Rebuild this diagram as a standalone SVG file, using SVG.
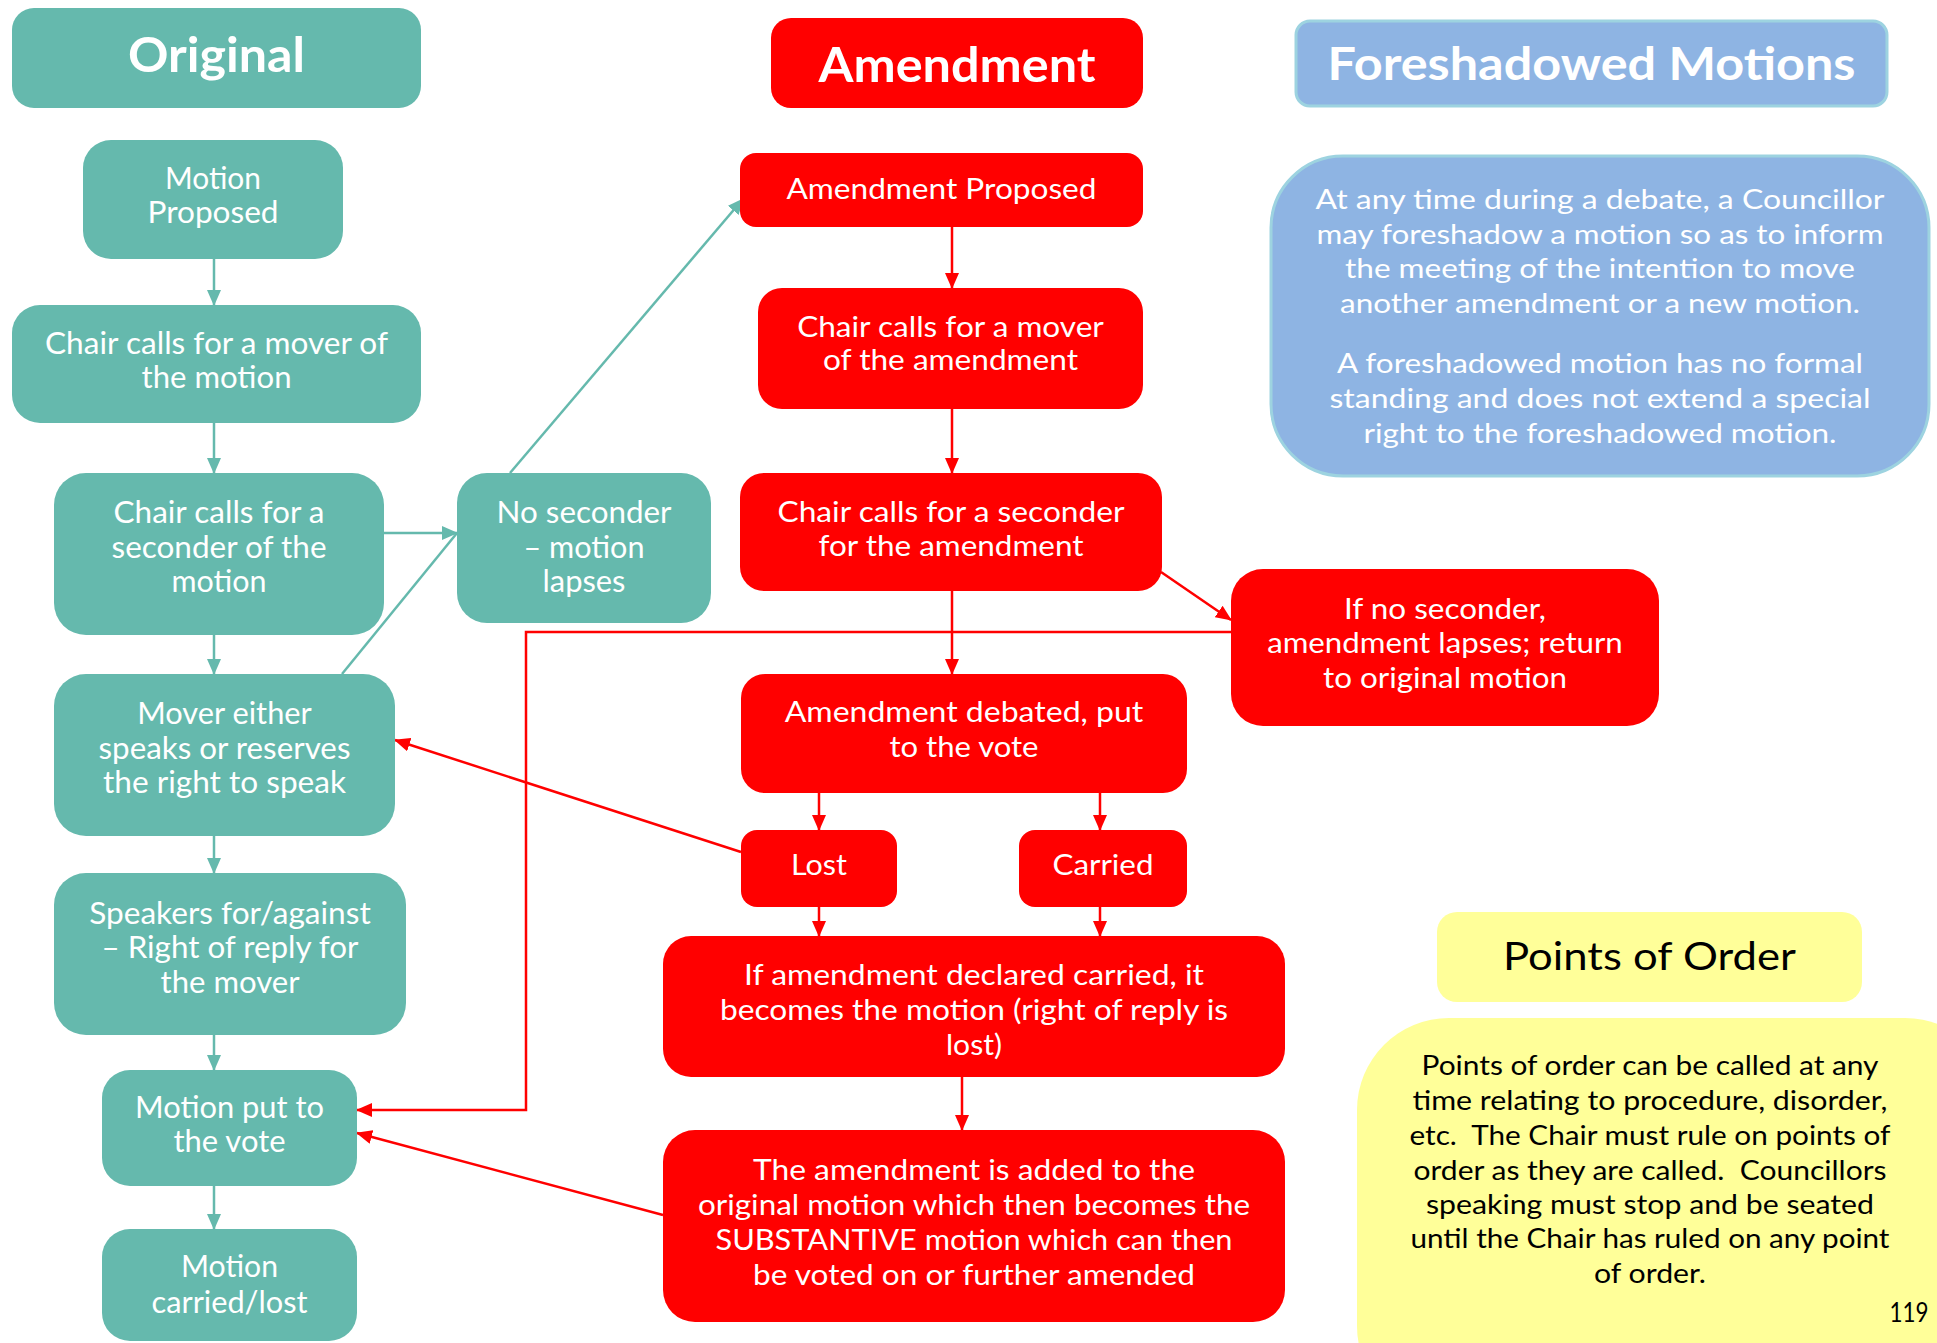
<svg xmlns="http://www.w3.org/2000/svg" width="1937" height="1343" viewBox="0 0 1937 1343">
<defs>
<style>
.teal{fill:#65B9AD;}
.red{fill:#FF0000;}
.blue{fill:#8EB4E3;stroke:#9DD3E0;stroke-width:3;}
.yel{fill:#FFFF99;}
text{font-family:Lato,"Noto Sans","Liberation Sans",sans-serif;text-anchor:middle;}
.wt{fill:#FFFFFF;font-size:31px;}
.rt{fill:#FFFFFF;font-size:29px;}
.bt{fill:#FFFFFF;font-size:27px;}
.yt{fill:#000000;font-size:26px;}
.ttl{fill:#FFFFFF;font-size:48px;font-weight:700;}
.bttl{fill:#FFFFFF;font-size:45px;font-weight:700;}
.yttl{fill:#000000;font-size:39px;}
.lt{stroke:#65B9AD;stroke-width:2.5;fill:none;}
.lr{stroke:#FF0000;stroke-width:2.5;fill:none;}
</style>
<marker id="at" markerUnits="userSpaceOnUse" markerWidth="16" markerHeight="14" refX="15" refY="7" orient="auto"><path d="M0,0 L16,7 L0,14 z" fill="#65B9AD"/></marker>
<marker id="ar" markerUnits="userSpaceOnUse" markerWidth="16" markerHeight="14" refX="15" refY="7" orient="auto"><path d="M0,0 L16,7 L0,14 z" fill="#FF0000"/></marker>
</defs>
<rect width="1937" height="1343" fill="#FFFFFF"/>

<g id="connectors">
<line class="lt" x1="214" y1="259" x2="214" y2="305" marker-end="url(#at)"/>
<line class="lt" x1="214" y1="423" x2="214" y2="473" marker-end="url(#at)"/>
<line class="lt" x1="214" y1="635" x2="214" y2="674" marker-end="url(#at)"/>
<line class="lt" x1="214" y1="836" x2="214" y2="873" marker-end="url(#at)"/>
<line class="lt" x1="214" y1="1035" x2="214" y2="1070" marker-end="url(#at)"/>
<line class="lt" x1="214" y1="1186" x2="214" y2="1229" marker-end="url(#at)"/>
<line class="lt" x1="384" y1="533" x2="457" y2="533" marker-end="url(#at)"/>
<line class="lt" x1="342" y1="674" x2="457" y2="533"/>
<line class="lt" x1="510" y1="473" x2="743" y2="199" marker-end="url(#at)"/>
<line class="lr" x1="952" y1="227" x2="952" y2="288" marker-end="url(#ar)"/>
<line class="lr" x1="952" y1="409" x2="952" y2="473" marker-end="url(#ar)"/>
<line class="lr" x1="952" y1="590" x2="952" y2="674" marker-end="url(#ar)"/>
<line class="lr" x1="1161" y1="572" x2="1231" y2="620" marker-end="url(#ar)"/>
<polyline class="lr" points="1231,632 526,632 526,1110 357,1110" marker-end="url(#ar)"/>
<line class="lr" x1="741" y1="852" x2="395" y2="740" marker-end="url(#ar)"/>
<line class="lr" x1="819" y1="793" x2="819" y2="830" marker-end="url(#ar)"/>
<line class="lr" x1="1100" y1="793" x2="1100" y2="830" marker-end="url(#ar)"/>
<line class="lr" x1="819" y1="907" x2="819" y2="936" marker-end="url(#ar)"/>
<line class="lr" x1="1100" y1="907" x2="1100" y2="936" marker-end="url(#ar)"/>
<line class="lr" x1="962" y1="1077" x2="962" y2="1130" marker-end="url(#ar)"/>
<line class="lr" x1="663" y1="1215" x2="357" y2="1133" marker-end="url(#ar)"/>
</g>

<g id="original-header">
<rect class="teal" x="12" y="8" width="409" height="100" rx="22"/>
<text class="ttl" x="216.5" y="72" textLength="177" lengthAdjust="spacingAndGlyphs">Original</text>
</g>
<g id="motion-proposed">
<rect class="teal" x="83" y="140" width="260" height="119" rx="28"/>
<text class="wt" x="213" y="188.5" textLength="96" lengthAdjust="spacingAndGlyphs">Motion</text>
<text class="wt" x="213" y="223" textLength="131" lengthAdjust="spacingAndGlyphs">Proposed</text>
</g>
<g id="chair-mover">
<rect class="teal" x="12" y="305" width="409" height="118" rx="28"/>
<text class="wt" x="216.5" y="353.5" textLength="343" lengthAdjust="spacingAndGlyphs">Chair calls for a mover of</text>
<text class="wt" x="216.5" y="388" textLength="150" lengthAdjust="spacingAndGlyphs">the motion</text>
</g>
<g id="chair-seconder">
<rect class="teal" x="54" y="473" width="330" height="162" rx="32"/>
<text class="wt" x="219" y="523" textLength="211" lengthAdjust="spacingAndGlyphs">Chair calls for a</text>
<text class="wt" x="219" y="557.6" textLength="215" lengthAdjust="spacingAndGlyphs">seconder of the</text>
<text class="wt" x="219" y="592" textLength="95" lengthAdjust="spacingAndGlyphs">motion</text>
</g>
<g id="no-seconder">
<rect class="teal" x="457" y="473" width="254" height="150" rx="30"/>
<text class="wt" x="584" y="523" textLength="175" lengthAdjust="spacingAndGlyphs">No seconder</text>
<text class="wt" x="584" y="557.6" textLength="121" lengthAdjust="spacingAndGlyphs">– motion</text>
<text class="wt" x="584" y="592" textLength="83" lengthAdjust="spacingAndGlyphs">lapses</text>
</g>
<g id="mover-either">
<rect class="teal" x="54" y="674" width="341" height="162" rx="32"/>
<text class="wt" x="224.5" y="724.3" textLength="174.5" lengthAdjust="spacingAndGlyphs">Mover either</text>
<text class="wt" x="224.5" y="758.8" textLength="252" lengthAdjust="spacingAndGlyphs">speaks or reserves</text>
<text class="wt" x="224.5" y="793.4" textLength="243" lengthAdjust="spacingAndGlyphs">the right to speak</text>
</g>
<g id="speakers">
<rect class="teal" x="54" y="873" width="352" height="162" rx="32"/>
<text class="wt" x="230" y="924" textLength="281.5" lengthAdjust="spacingAndGlyphs">Speakers for/against</text>
<text class="wt" x="230" y="958.4" textLength="257" lengthAdjust="spacingAndGlyphs">– Right of reply for</text>
<text class="wt" x="230" y="993.4" textLength="139" lengthAdjust="spacingAndGlyphs">the mover</text>
</g>
<g id="motion-vote">
<rect class="teal" x="102" y="1070" width="255" height="116" rx="28"/>
<text class="wt" x="229.5" y="1117.6" textLength="189" lengthAdjust="spacingAndGlyphs">Motion put to</text>
<text class="wt" x="229.5" y="1152" textLength="112" lengthAdjust="spacingAndGlyphs">the vote</text>
</g>
<g id="motion-carried">
<rect class="teal" x="102" y="1229" width="255" height="112" rx="28"/>
<text class="wt" x="229.5" y="1277" textLength="97" lengthAdjust="spacingAndGlyphs">Motion</text>
<text class="wt" x="229.5" y="1312.6" textLength="156" lengthAdjust="spacingAndGlyphs">carried/lost</text>
</g>

<g id="amendment-header">
<rect class="red" x="771" y="18" width="372" height="90" rx="20"/>
<text class="ttl" x="957" y="82" textLength="277" lengthAdjust="spacingAndGlyphs">Amendment</text>
</g>
<g id="amendment-proposed">
<rect class="red" x="740" y="153" width="403" height="74" rx="16"/>
<text class="rt" x="941.5" y="198.6" textLength="310" lengthAdjust="spacingAndGlyphs">Amendment Proposed</text>
</g>
<g id="amend-mover">
<rect class="red" x="758" y="288" width="385" height="121" rx="24"/>
<text class="rt" x="950.5" y="336.7" textLength="306.6" lengthAdjust="spacingAndGlyphs">Chair calls for a mover</text>
<text class="rt" x="950.5" y="370.4" textLength="255" lengthAdjust="spacingAndGlyphs">of the amendment</text>
</g>
<g id="amend-seconder">
<rect class="red" x="740" y="473" width="422" height="118" rx="24"/>
<text class="rt" x="951" y="522" textLength="347" lengthAdjust="spacingAndGlyphs">Chair calls for a seconder</text>
<text class="rt" x="951" y="555.6" textLength="265" lengthAdjust="spacingAndGlyphs">for the amendment</text>
</g>
<g id="amend-lapses">
<rect class="red" x="1231" y="569" width="428" height="157" rx="32"/>
<text class="rt" x="1445" y="619" textLength="202" lengthAdjust="spacingAndGlyphs">If no seconder,</text>
<text class="rt" x="1445" y="653" textLength="355.6" lengthAdjust="spacingAndGlyphs">amendment lapses; return</text>
<text class="rt" x="1445" y="687.5" textLength="244" lengthAdjust="spacingAndGlyphs">to original motion</text>
</g>
<g id="amend-debated">
<rect class="red" x="741" y="674" width="446" height="119" rx="24"/>
<text class="rt" x="964" y="722" textLength="358.6" lengthAdjust="spacingAndGlyphs">Amendment debated, put</text>
<text class="rt" x="964" y="756.6" textLength="149" lengthAdjust="spacingAndGlyphs">to the vote</text>
</g>
<g id="lost">
<rect class="red" x="741" y="830" width="156" height="77" rx="16"/>
<text class="rt" x="819" y="875.4" textLength="56" lengthAdjust="spacingAndGlyphs">Lost</text>
</g>
<g id="carried">
<rect class="red" x="1019" y="830" width="168" height="77" rx="16"/>
<text class="rt" x="1103" y="875.4" textLength="101" lengthAdjust="spacingAndGlyphs">Carried</text>
</g>
<g id="declared-carried">
<rect class="red" x="663" y="936" width="622" height="141" rx="28"/>
<text class="rt" x="974" y="985.3" textLength="460" lengthAdjust="spacingAndGlyphs">If amendment declared carried, it</text>
<text class="rt" x="974" y="1020.3" textLength="508" lengthAdjust="spacingAndGlyphs">becomes the motion (right of reply is</text>
<text class="rt" x="974" y="1055" textLength="56" lengthAdjust="spacingAndGlyphs">lost)</text>
</g>
<g id="substantive">
<rect class="red" x="663" y="1130" width="622" height="192" rx="32"/>
<text class="rt" x="974" y="1180.4" textLength="442" lengthAdjust="spacingAndGlyphs">The amendment is added to the</text>
<text class="rt" x="974" y="1215" textLength="552" lengthAdjust="spacingAndGlyphs">original motion which then becomes the</text>
<text class="rt" x="974" y="1250" textLength="517" lengthAdjust="spacingAndGlyphs">SUBSTANTIVE motion which can then</text>
<text class="rt" x="974" y="1284.8" textLength="442" lengthAdjust="spacingAndGlyphs">be voted on or further amended</text>
</g>

<g id="foreshadowed-header">
<rect class="blue" x="1296" y="21" width="591" height="85" rx="14"/>
<text class="bttl" x="1591.5" y="79.5" textLength="528" lengthAdjust="spacingAndGlyphs">Foreshadowed Motions</text>
</g>
<g id="foreshadowed-body">
<rect class="blue" x="1271" y="156" width="658" height="320" rx="72"/>
<text class="bt" x="1600" y="209.3" textLength="569" lengthAdjust="spacingAndGlyphs">At any time during a debate, a Councillor</text>
<text class="bt" x="1600" y="243.5" textLength="567" lengthAdjust="spacingAndGlyphs">may foreshadow a motion so as to inform</text>
<text class="bt" x="1600" y="278.3" textLength="510" lengthAdjust="spacingAndGlyphs">the meeting of the intention to move</text>
<text class="bt" x="1600" y="313.3" textLength="520" lengthAdjust="spacingAndGlyphs">another amendment or a new motion.</text>
<text class="bt" x="1600" y="373.3" textLength="526" lengthAdjust="spacingAndGlyphs">A foreshadowed motion has no formal</text>
<text class="bt" x="1600" y="408.3" textLength="541" lengthAdjust="spacingAndGlyphs">standing and does not extend a special</text>
<text class="bt" x="1600" y="443.3" textLength="473" lengthAdjust="spacingAndGlyphs">right to the foreshadowed motion.</text>
</g>

<g id="points-header">
<rect class="yel" x="1437" y="912" width="425" height="90" rx="20"/>
<text class="yttl" x="1649.5" y="970" textLength="293" lengthAdjust="spacingAndGlyphs">Points of Order</text>
</g>
<g id="points-body">
<rect class="yel" x="1357" y="1018" width="640" height="400" rx="92"/>
<text class="yt" x="1650" y="1075" textLength="457" lengthAdjust="spacingAndGlyphs">Points of order can be called at any</text>
<text class="yt" x="1650" y="1110" textLength="475" lengthAdjust="spacingAndGlyphs">time relating to procedure, disorder,</text>
<text class="yt" x="1650" y="1145" textLength="481" lengthAdjust="spacingAndGlyphs" xml:space="preserve">etc.  The Chair must rule on points of</text>
<text class="yt" x="1650" y="1180" textLength="473" lengthAdjust="spacingAndGlyphs" xml:space="preserve">order as they are called.  Councillors</text>
<text class="yt" x="1650" y="1214.3" textLength="448" lengthAdjust="spacingAndGlyphs">speaking must stop and be seated</text>
<text class="yt" x="1650" y="1248.3" textLength="479" lengthAdjust="spacingAndGlyphs">until the Chair has ruled on any point</text>
<text class="yt" x="1650" y="1283.3" textLength="112" lengthAdjust="spacingAndGlyphs">of order.</text>
<text class="yt" x="1909" y="1321.7" textLength="39" lengthAdjust="spacingAndGlyphs">119</text>
</g>
</svg>
